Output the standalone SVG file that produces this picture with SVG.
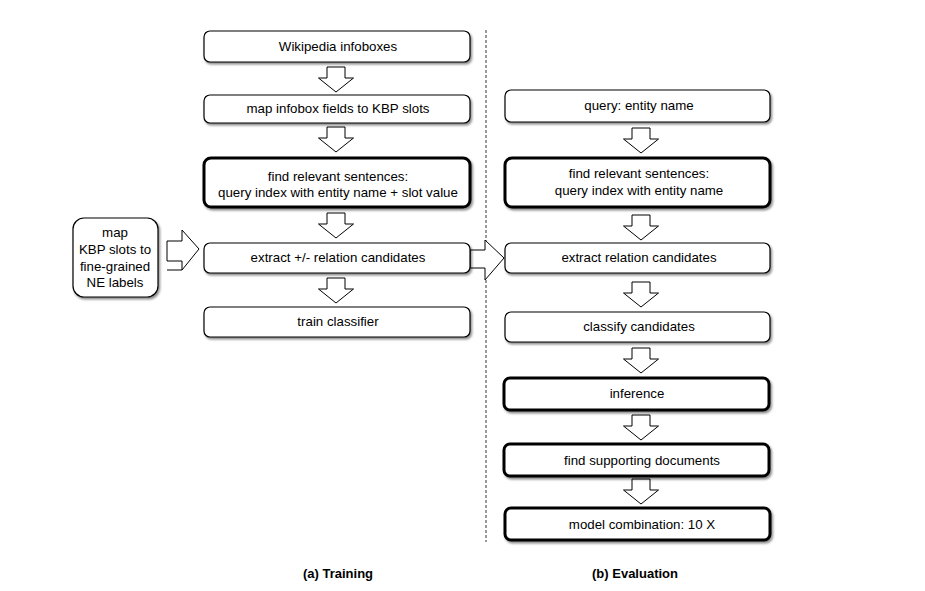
<svg xmlns="http://www.w3.org/2000/svg" width="925" height="591" viewBox="0 0 925 591">
<defs>
<filter id="sh" x="-10%" y="-30%" width="125%" height="170%">
<feDropShadow dx="1.5" dy="2" stdDeviation="1.3" flood-color="#000" flood-opacity="0.45"/>
</filter>
<path id="dn" d="M-9,0 h18 v11 h8.5 l-17.5,14 l-17.5,-14 h8.5 z"/>
</defs>
<style>
.b{fill:#fff;stroke:#000;stroke-width:1.2;filter:url(#sh)}
.k{fill:#fff;stroke:#000;stroke-width:3;filter:url(#sh)}
.a{fill:#fff;stroke:#000;stroke-width:1}
text{font-family:"Liberation Sans",Arial,sans-serif;font-size:13.3px;fill:#000;text-anchor:middle}
.cap{font-size:13px;font-weight:bold}
</style>
<rect width="925" height="591" fill="#fff"/>
<line x1="486" y1="30" x2="486" y2="542" stroke="#333" stroke-width="1" stroke-dasharray="3,2"/>
<g id="connectors">
<use href="#dn" x="336" y="67" class="a"/>
<use href="#dn" x="336" y="127" class="a"/>
<use href="#dn" x="336" y="213" class="a"/>
<use href="#dn" x="336" y="278" class="a"/>
<use href="#dn" x="641" y="128" class="a"/>
<use href="#dn" x="641" y="215" class="a"/>
<use href="#dn" x="641" y="282" class="a"/>
<use href="#dn" x="641" y="348" class="a"/>
<use href="#dn" x="641" y="415" class="a"/>
<use href="#dn" x="641" y="479" class="a"/>
<path class="a" d="M167,241 H182 V230 L199,249 L182,270 V261 H167 Z"/>
<path class="a" d="M167,270 H182"/>
<path class="a" d="M470,250 H485 V240 L504,258 L485,280 V268 H470 Z"/>
</g>
<g id="n1"><rect class="b" x="204" y="31" width="266" height="31" rx="6"/><text x="338" y="51">Wikipedia infoboxes</text></g>
<g id="n2"><rect class="b" x="204" y="95" width="266" height="28" rx="6"/><text x="338" y="113">map infobox fields to KBP slots</text></g>
<g id="n3"><rect class="k" x="204" y="158" width="266" height="49" rx="7"/><text x="338" y="181">find relevant sentences:</text><text x="338" y="197">query index with entity name + slot value</text></g>
<g id="n4"><rect class="b" x="204" y="243" width="266" height="30" rx="6"/><text x="338" y="262">extract +/- relation candidates</text></g>
<g id="n5"><rect class="b" x="204" y="307" width="266" height="30" rx="6"/><text x="338" y="326">train classifier</text></g>
<g id="n6"><rect class="b" x="73" y="218" width="85" height="79" rx="11"/><text x="115" y="237">map</text><text x="115" y="254">KBP slots to</text><text x="115" y="271">fine-grained</text><text x="115" y="287">NE labels</text></g>
<g id="m1"><rect class="b" x="505" y="90" width="265" height="32" rx="6"/><text x="639" y="110">query: entity name</text></g>
<g id="m2"><rect class="k" x="505" y="158" width="265" height="49" rx="7"/><text x="639" y="178">find relevant sentences:</text><text x="639" y="195">query index with entity name</text></g>
<g id="m3"><rect class="b" x="505" y="243" width="265" height="30" rx="6"/><text x="639" y="262">extract relation candidates</text></g>
<g id="m4"><rect class="b" x="505" y="312" width="265" height="30" rx="6"/><text x="639" y="331">classify candidates</text></g>
<g id="m5"><rect class="k" x="504" y="378" width="265" height="32" rx="6"/><text x="637" y="398">inference</text></g>
<g id="m6"><rect class="k" x="504" y="444" width="265" height="32" rx="6"/><text x="642" y="465">find supporting documents</text></g>
<g id="m7"><rect class="k" x="505" y="508" width="265" height="32" rx="6"/><text x="642" y="529">model combination: 10 X</text></g>
<text class="cap" x="338" y="578">(a) Training</text>
<text class="cap" x="635" y="578">(b) Evaluation</text>
</svg>
